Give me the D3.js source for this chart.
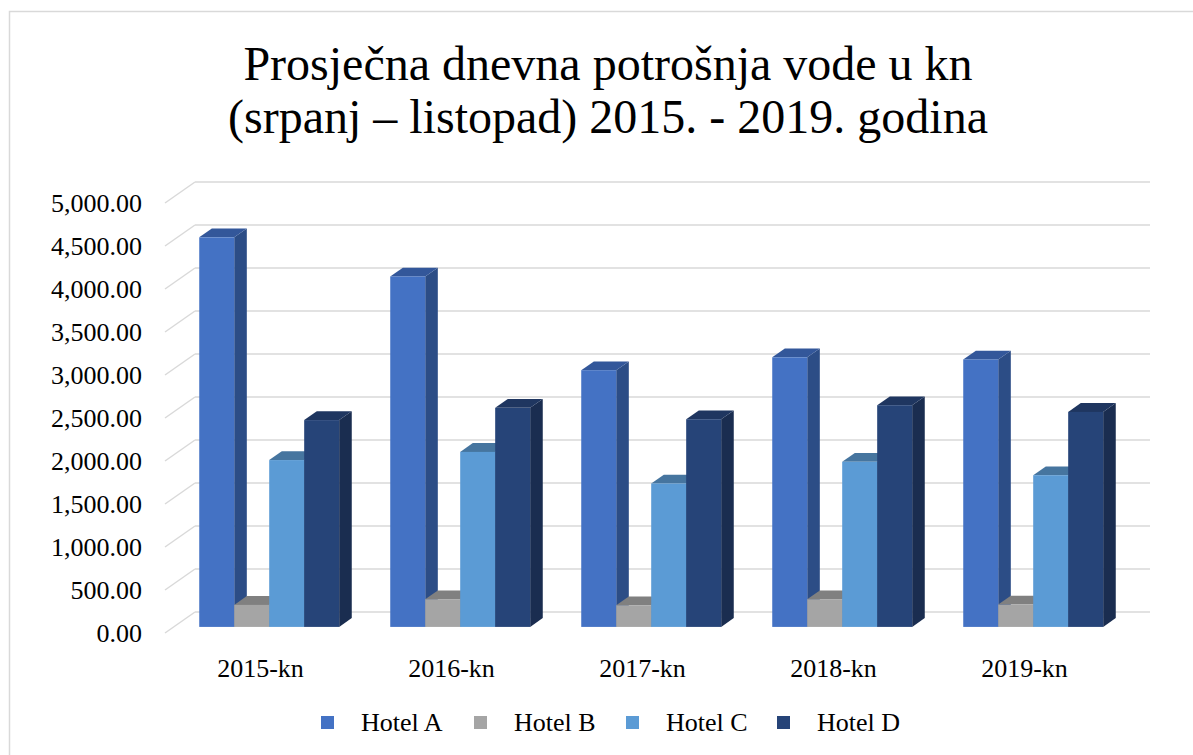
<!DOCTYPE html>
<html>
<head>
<meta charset="utf-8">
<script src="https://cdn.jsdelivr.net/npm/d3@7"></script>
<style>
  html, body { margin: 0; padding: 0; background: #fff; }
  svg { display: block; }
  text { font-family: "Liberation Serif", "Times New Roman", serif; fill: #000; }
</style>
</head>
<body>
<svg id="chart" width="1193" height="755"></svg>
<script>
const titleLines = ["Prosječna dnevna potrošnja vode u kn", "(srpanj – listopad) 2015. - 2019. godina"];
const categories = ["2015-kn", "2016-kn", "2017-kn", "2018-kn", "2019-kn"];
const seriesNames = ["Hotel A", "Hotel B", "Hotel C", "Hotel D"];
const hotelA = [4530, 4075, 2985, 3135, 3110];
const hotelB = [256, 322, 252, 322, 260];
const hotelC = [1940, 2035, 1668, 1920, 1764];
const hotelD = [2405, 2547, 2415, 2578, 2500];
const yTicks = [0, 500, 1000, 1500, 2000, 2500, 3000, 3500, 4000, 4500, 5000];
const colors = ["#4472C4", "#A5A5A5", "#5B9BD5", "#264478"];
const sideColors = ["#2C4D86", "#7A7A7A", "#3F73A2", "#1A2D50"];
const topColors = ["#33579A", "#808080", "#46759F", "#1F3660"];

const seriesValues = [hotelA, hotelB, hotelC, hotelD];

const svg = d3.select("#chart");

// chart border
svg.append("rect").attr("x", 9.5).attr("y", 11.5).attr("width", 1300).attr("height", 900)
  .attr("fill", "none").attr("stroke", "#D9D9D9").attr("stroke-width", 1.5);

// title
svg.append("text").attr("x", 608).attr("y", 80).attr("text-anchor", "middle")
  .style("font-size", "48px").text(titleLines[0]);
svg.append("text").attr("x", 608).attr("y", 133).attr("text-anchor", "middle")
  .style("font-size", "48px").text(titleLines[1]);

// 3D geometry: front plane and depth vector
const depthDX = 30, depthDY = -21;
const y = d3.scaleLinear().domain([0, 5000]).range([633, 203]); // front plane
const x0 = d3.scaleBand().domain(categories).range([165, 1120]).paddingInner(0).paddingOuter(0);
const x1 = d3.scaleBand().domain(seriesNames).range([0, x0.bandwidth()]).paddingInner(0).paddingOuter(0.73);
const f0 = 0.29, f1 = 0.71; // bar depth fractions

// gridlines
const grid = svg.append("g");
yTicks.forEach(t => {
  const yf = y(t);
  grid.append("line").attr("x1", 165).attr("y1", yf).attr("x2", 165 + depthDX).attr("y2", yf + depthDY)
    .attr("stroke", "#D9D9D9").attr("stroke-width", 1.5);
  grid.append("line").attr("x1", 165 + depthDX).attr("y1", yf + depthDY).attr("x2", 1120 + depthDX).attr("y2", yf + depthDY)
    .attr("stroke", "#D9D9D9").attr("stroke-width", 1.5);
});

// y tick labels
svg.append("g").selectAll("text").data(yTicks).join("text")
  .attr("x", 142).attr("y", d => y(d)).attr("dy", "0.33em").attr("text-anchor", "end")
  .style("font-size", "26px").text(d => d3.format(",.2f")(d));

// bars
const bars = svg.append("g");
categories.forEach((c, ci) => {
  seriesNames.forEach((s, si) => {
    const v = seriesValues[si][ci];
    const xl = x0(c) + x1(s) + f0 * depthDX;
    const xr = xl + x1.bandwidth();
    const yb = y(0) + f0 * depthDY;
    const yt = y(v) + f0 * depthDY;
    const ddx = (f1 - f0) * depthDX, ddy = (f1 - f0) * depthDY;
    const g = bars.append("g");
    g.append("path").attr("d", `M${xr},${yb} L${xr + ddx},${yb + ddy} L${xr + ddx},${yt + ddy} L${xr},${yt} Z`)
      .attr("fill", sideColors[si]);
    g.append("path").attr("d", `M${xl},${yt} L${xr},${yt} L${xr + ddx},${yt + ddy} L${xl + ddx},${yt + ddy} Z`)
      .attr("fill", topColors[si]);
    g.append("rect").attr("x", xl).attr("y", yt).attr("width", x1.bandwidth()).attr("height", yb - yt)
      .attr("fill", colors[si]);
  });
});

// category labels
svg.append("g").selectAll("text").data(categories).join("text")
  .attr("x", d => x0(d) + x0.bandwidth() / 2).attr("y", 668).attr("dy", "0.33em")
  .attr("text-anchor", "middle").style("font-size", "26px").text(d => d);

// legend
const legendX = [321, 474, 626, 777];
const legend = svg.append("g");
seriesNames.forEach((s, i) => {
  legend.append("rect").attr("x", legendX[i]).attr("y", 716).attr("width", 13).attr("height", 13).attr("fill", colors[i]);
  legend.append("text").attr("x", legendX[i] + 40).attr("y", 722).attr("dy", "0.33em")
    .style("font-size", "26px").text(s);
});
</script>
</body>
</html>
